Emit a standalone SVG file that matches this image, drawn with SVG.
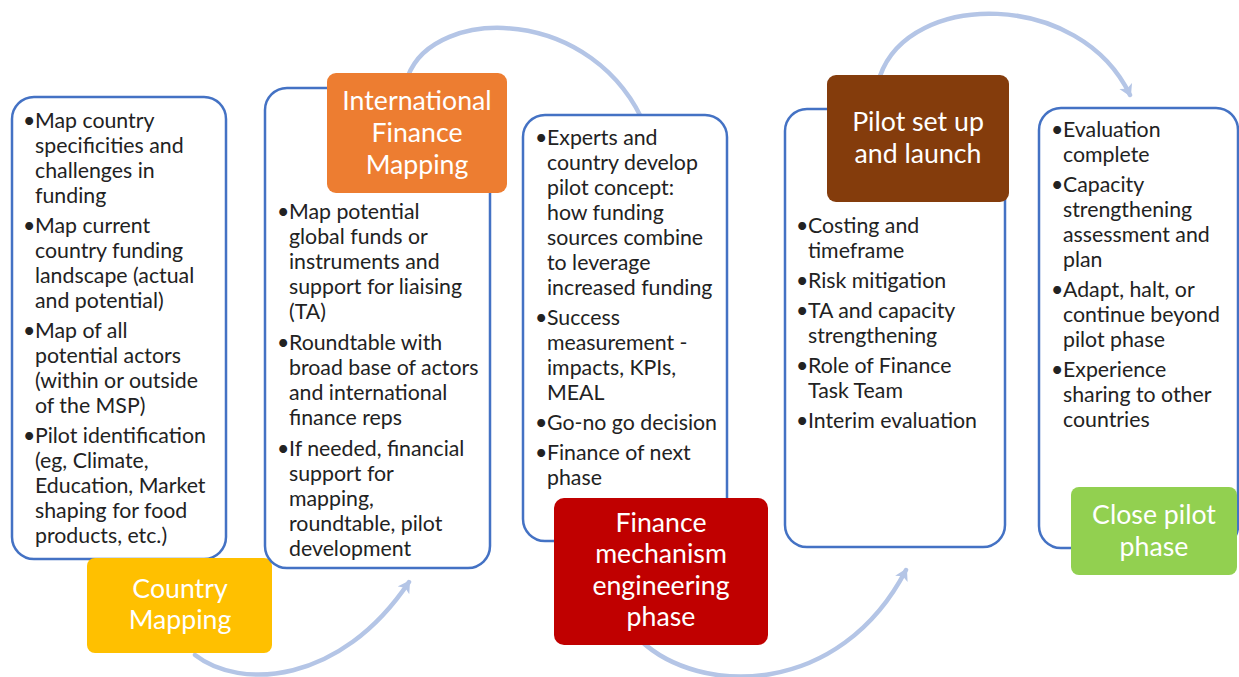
<svg xmlns="http://www.w3.org/2000/svg" width="1239" height="677" viewBox="0 0 1239 677">
  <defs>
    <marker id="arrowhead" markerUnits="userSpaceOnUse" markerWidth="16" markerHeight="16" refX="10" refY="7" orient="auto">
      <path d="M0,0 L12,7 L0,14 L3,7 Z" fill="#B4C5E6"/>
    </marker>
    <style>
      .panel { fill: #ffffff; stroke: #4472C4; stroke-width: 2.5; }
      .head { stroke: none; }
      .headtxt { font-family: Lato, "Liberation Sans", sans-serif; font-size: 26.7px; fill: #ffffff; text-anchor: middle; }
      .body { font-family: Lato, "Liberation Sans", sans-serif; font-size: 21.3px; fill: #222222; }
      .flow { fill: none; stroke: #B4C5E6; stroke-width: 4.5; stroke-linecap: round; }
    </style>
  </defs>

  <rect width="1239" height="677" fill="#ffffff"/>

  <!-- curved flow arrows between stages -->
  <g id="connectors">
    <path class="flow" d="M195 655 C240 690 340 685 409 582" marker-end="url(#arrowhead)"/>
    <path class="flow" d="M408 76 C435 5 595 5 646 128" marker-end="url(#arrowhead)"/>
    <path class="flow" d="M640 640 C700 697 840 697 906 570" marker-end="url(#arrowhead)"/>
    <path class="flow" d="M880 76 C910 -10 1080 -10 1130 95" marker-end="url(#arrowhead)"/>
  </g>

  <!-- Stage 1: Country Mapping -->
  <g id="country-mapping">
    <rect class="panel" x="12" y="97" width="214" height="462" rx="22"/>
    <g class="body">
      <text x="23" y="128">•</text><text x="35" y="128">Map country</text>
      <text x="35" y="153">specificities and</text>
      <text x="35" y="178">challenges in</text>
      <text x="35" y="203">funding</text>
      <text x="23" y="233">•</text><text x="35" y="233">Map current</text>
      <text x="35" y="258">country funding</text>
      <text x="35" y="283">landscape (actual</text>
      <text x="35" y="308">and potential)</text>
      <text x="23" y="338">•</text><text x="35" y="338">Map of all</text>
      <text x="35" y="363">potential actors</text>
      <text x="35" y="388">(within or outside</text>
      <text x="35" y="413">of the MSP)</text>
      <text x="23" y="443">•</text><text x="35" y="443">Pilot identification</text>
      <text x="35" y="468">(eg, Climate,</text>
      <text x="35" y="493">Education, Market</text>
      <text x="35" y="518">shaping for food</text>
      <text x="35" y="543">products, etc.)</text>
    </g>
    <rect class="head" x="87" y="558" width="185" height="95" rx="8" fill="#FFC000"/>
    <text class="headtxt" x="180" y="598">Country</text>
    <text class="headtxt" x="180" y="629">Mapping</text>
  </g>

  <!-- Stage 2: International Finance Mapping -->
  <g id="international-finance-mapping">
    <rect class="panel" x="265" y="88" width="225" height="480" rx="22"/>
    <g class="body">
      <text x="277" y="219">•</text><text x="289" y="219">Map potential</text>
      <text x="289" y="244">global funds or</text>
      <text x="289" y="269">instruments and</text>
      <text x="289" y="294">support for liaising</text>
      <text x="289" y="319">(TA)</text>
      <text x="277" y="350">•</text><text x="289" y="350">Roundtable with</text>
      <text x="289" y="375">broad base of actors</text>
      <text x="289" y="400">and international</text>
      <text x="289" y="425">finance reps</text>
      <text x="277" y="456">•</text><text x="289" y="456">If needed, financial</text>
      <text x="289" y="481">support for</text>
      <text x="289" y="506">mapping,</text>
      <text x="289" y="531">roundtable, pilot</text>
      <text x="289" y="556">development</text>
    </g>
    <rect class="head" x="327" y="73" width="180" height="120" rx="9" fill="#ED7D31"/>
    <text class="headtxt" x="417" y="110">International</text>
    <text class="headtxt" x="417" y="142">Finance</text>
    <text class="headtxt" x="417" y="174">Mapping</text>
  </g>

  <!-- Stage 3: Finance mechanism engineering phase -->
  <g id="finance-mechanism-engineering">
    <rect class="panel" x="523" y="115" width="204" height="426" rx="22"/>
    <g class="body">
      <text x="535" y="145">•</text><text x="547" y="145">Experts and</text>
      <text x="547" y="170">country develop</text>
      <text x="547" y="195">pilot concept:</text>
      <text x="547" y="220">how funding</text>
      <text x="547" y="245">sources combine</text>
      <text x="547" y="270">to leverage</text>
      <text x="547" y="295">increased funding</text>
      <text x="535" y="325">•</text><text x="547" y="325">Success</text>
      <text x="547" y="350">measurement -</text>
      <text x="547" y="375">impacts, KPIs,</text>
      <text x="547" y="400">MEAL</text>
      <text x="535" y="430">•</text><text x="547" y="430">Go-no go decision</text>
      <text x="535" y="460">•</text><text x="547" y="460">Finance of next</text>
      <text x="547" y="485">phase</text>
    </g>
    <rect class="head" x="554" y="498" width="214" height="147" rx="10" fill="#C00000"/>
    <text class="headtxt" x="661" y="532">Finance</text>
    <text class="headtxt" x="661" y="563">mechanism</text>
    <text class="headtxt" x="661" y="595">engineering</text>
    <text class="headtxt" x="661" y="626">phase</text>
  </g>

  <!-- Stage 4: Pilot set up and launch -->
  <g id="pilot-setup-launch">
    <rect class="panel" x="785" y="109" width="220" height="438" rx="22"/>
    <g class="body">
      <text x="796" y="233">•</text><text x="808" y="233">Costing and</text>
      <text x="808" y="258">timeframe</text>
      <text x="796" y="288">•</text><text x="808" y="288">Risk mitigation</text>
      <text x="796" y="318">•</text><text x="808" y="318">TA and capacity</text>
      <text x="808" y="343">strengthening</text>
      <text x="796" y="373">•</text><text x="808" y="373">Role of Finance</text>
      <text x="808" y="398">Task Team</text>
      <text x="796" y="428">•</text><text x="808" y="428">Interim evaluation</text>
    </g>
    <rect class="head" x="827" y="75" width="182" height="127" rx="9" fill="#843C0C"/>
    <text class="headtxt" x="918" y="131">Pilot set up</text>
    <text class="headtxt" x="918" y="163">and launch</text>
  </g>

  <!-- Stage 5: Close pilot phase -->
  <g id="close-pilot-phase">
    <rect class="panel" x="1039" y="108" width="199" height="440" rx="22"/>
    <g class="body">
      <text x="1051" y="137">•</text><text x="1063" y="137">Evaluation</text>
      <text x="1063" y="162">complete</text>
      <text x="1051" y="192">•</text><text x="1063" y="192">Capacity</text>
      <text x="1063" y="217">strengthening</text>
      <text x="1063" y="242">assessment and</text>
      <text x="1063" y="267">plan</text>
      <text x="1051" y="297">•</text><text x="1063" y="297">Adapt, halt, or</text>
      <text x="1063" y="322">continue beyond</text>
      <text x="1063" y="347">pilot phase</text>
      <text x="1051" y="377">•</text><text x="1063" y="377">Experience</text>
      <text x="1063" y="402">sharing to other</text>
      <text x="1063" y="427">countries</text>
    </g>
    <rect class="head" x="1071" y="487" width="166" height="88" rx="8" fill="#92D050"/>
    <text class="headtxt" x="1154" y="524">Close pilot</text>
    <text class="headtxt" x="1154" y="556">phase</text>
  </g>
</svg>
